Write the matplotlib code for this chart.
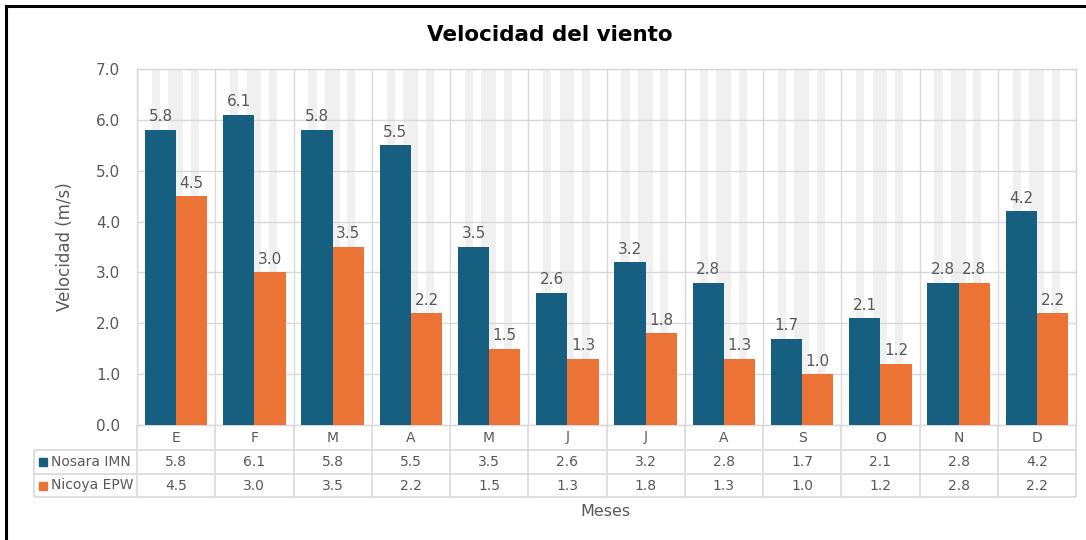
import matplotlib
matplotlib.use("Agg")
import matplotlib.pyplot as plt
from matplotlib.patches import Rectangle
from matplotlib.lines import Line2D
from matplotlib.transforms import blended_transform_factory
import numpy as np

# Monthly wind speed (m/s)
months = ["E", "F", "M", "A", "M", "J", "J", "A", "S", "O", "N", "D"]
nosara_imn = [5.8, 6.1, 5.8, 5.5, 3.5, 2.6, 3.2, 2.8, 1.7, 2.1, 2.8, 4.2]
nicoya_epw = [4.5, 3.0, 3.5, 2.2, 1.5, 1.3, 1.8, 1.3, 1.0, 1.2, 2.8, 2.2]
series_names = ["Nosara IMN", "Nicoya EPW"]

title = "Velocidad del viento"
y_label = "Velocidad (m/s)"
x_label = "Meses"

BLUE = "#175F80"
ORANGE = "#EA7335"
TEXT = "#595959"
GRID = "#D9D9D9"
STRIPE = "#F0F0F0"

W, H = 1086, 540
fig = plt.figure(figsize=(W / 100, H / 100), dpi=100)
fig.patch.set_facecolor("white")


def fx(px):
    return px / W


def fy(py):
    return 1 - py / H


ax_left, ax_right, ax_top, ax_bot = 137, 1076, 69, 425
ax = fig.add_axes([fx(ax_left), fy(ax_bot), fx(ax_right - ax_left), (ax_bot - ax_top) / H])

n = len(months)
x = np.arange(n)
bw = 0.40

# vertical pattern stripes in the plot area
for i in range(n):
    base = i - 0.5
    for a, b in [(0.19, 0.295), (0.40, 0.59), (0.69, 0.79)]:
        ax.axvspan(base + a, base + b, color=STRIPE, lw=0, zorder=0)

ax.bar(x - bw / 2, nosara_imn, width=bw, color=BLUE, zorder=3, label=series_names[0])
ax.bar(x + bw / 2, nicoya_epw, width=bw, color=ORANGE, zorder=3, label=series_names[1])

for xi, v in zip(x, nosara_imn):
    ax.annotate(f"{v:.1f}", (xi - bw / 2, v), xytext=(0, 4), textcoords="offset points",
                ha="center", va="bottom", fontsize=11, color=TEXT, zorder=4)
for xi, v in zip(x, nicoya_epw):
    ax.annotate(f"{v:.1f}", (xi + bw / 2, v), xytext=(0, 4), textcoords="offset points",
                ha="center", va="bottom", fontsize=11, color=TEXT, zorder=4)

ax.set_xlim(-0.5, n - 0.5)
ax.set_ylim(0, 7)
ax.set_yticks(np.arange(0, 7.01, 1.0))
ax.set_yticklabels([f"{t:.1f}" for t in np.arange(0, 7.01, 1.0)], fontsize=11, color=TEXT)
ax.tick_params(axis="y", length=0, pad=12)
ax.set_xticks([])
ax.grid(axis="y", color=GRID, lw=1, zorder=1)
for b in np.arange(-0.5, n, 1.0):
    ax.axvline(b, color=GRID, lw=1, zorder=1)
for s in ax.spines.values():
    s.set_color(GRID)
    s.set_linewidth(1)
ax.set_axisbelow(True)

ax.set_ylabel(y_label, fontsize=12, color=TEXT, labelpad=16)

# data table under the axis
tr = blended_transform_factory(ax.transData, fig.transFigure)
row_cat, row_a, row_b, row_end = 425, 450, 474, 497
lk = dict(color=GRID, lw=1.2, solid_capstyle="butt")
for b in np.arange(-0.5, n, 1.0):
    fig.add_artist(Line2D([b, b], [fy(row_cat), fy(row_end)], transform=tr, **lk))
for py in (row_a, row_b, row_end):
    fig.add_artist(Line2D([fx(34), fx(ax_right)], [fy(py), fy(py)], transform=fig.transFigure, **lk))
fig.add_artist(Line2D([fx(34), fx(34)], [fy(row_a), fy(row_end)], transform=fig.transFigure, **lk))

for xi, m, a, b in zip(x, months, nosara_imn, nicoya_epw):
    fig.text(xi, fy((row_cat + row_a) / 2), m, transform=tr, ha="center", va="center",
             fontsize=10, color=TEXT)
    fig.text(xi, fy((row_a + row_b) / 2), f"{a:.1f}", transform=tr, ha="center", va="center",
             fontsize=10, color=TEXT)
    fig.text(xi, fy((row_b + row_end) / 2), f"{b:.1f}", transform=tr, ha="center", va="center",
             fontsize=10, color=TEXT)

for (top, bot), name, col in zip([(row_a, row_b), (row_b, row_end)], series_names, [BLUE, ORANGE]):
    cy = (top + bot) / 2
    fig.add_artist(Rectangle((fx(39), fy(cy + 4)), fx(8), 8 / H, color=col,
                             transform=fig.transFigure))
    fig.text(fx(51), fy(cy), name, ha="left", va="center", fontsize=10, color=TEXT)

fig.text(fx(605), fy(512), x_label, ha="center", va="center", fontsize=11.5, color=TEXT)
fig.text(fx(550), fy(35), title, ha="center", va="center", fontsize=15.5,
         fontweight="bold", color="black")

# outer frame
fig.add_artist(Line2D([fx(6), 1], [fy(6), fy(6)], color="black", lw=2.2,
                      transform=fig.transFigure))
fig.add_artist(Line2D([fx(6), fx(6)], [fy(6), 0], color="black", lw=2.2,
                      transform=fig.transFigure))

fig.savefig("out.png", dpi=100, facecolor="white")
